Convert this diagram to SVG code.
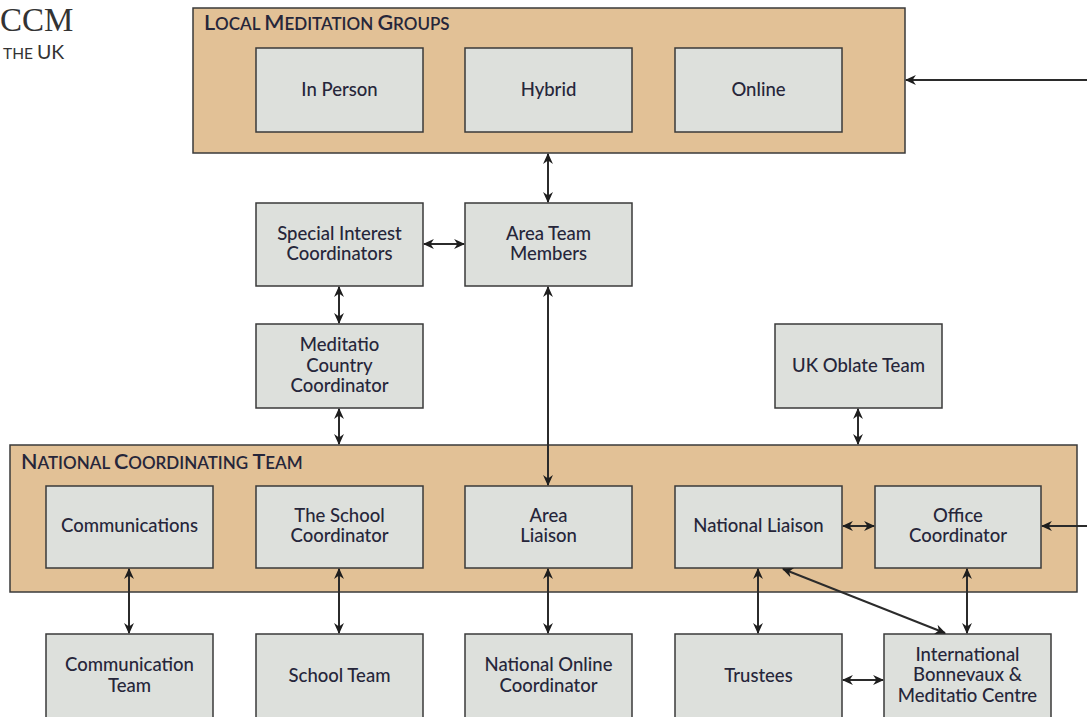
<svg xmlns="http://www.w3.org/2000/svg" width="1087" height="717" viewBox="0 0 1087 717">
<style>
.grp{fill:#e2c196;stroke:#3a3a3a;stroke-width:1.5}
.box{fill:#dde0dc;stroke:#3a3a3a;stroke-width:1.5}
.t{font-family:Lato,"Open Sans",sans-serif;font-size:18.5px;font-weight:500;fill:#26263a;text-anchor:middle}
.h{font-family:Lato,"Open Sans",sans-serif;fill:#26263a;font-weight:600}
.c{stroke:#2b2b2b;stroke-width:2;fill:none}
</style>
<defs>
<marker id="ah" viewBox="0 0 10 10" refX="9" refY="5" markerWidth="11" markerHeight="11" orient="auto-start-reverse" markerUnits="userSpaceOnUse">
<path d="M0,0.5 L10,5 L0,9.5 L3,5 z" fill="#1e1e1e"/>
</marker>
</defs>
<g id="logo">
<text x="0" y="31" font-family="Liberation Serif,serif" font-size="33" fill="#333">CCM</text>
<text x="3" y="59" font-family="Lato,sans-serif" fill="#333"><tspan font-size="15.5">THE </tspan><tspan font-size="19.5">UK</tspan></text>
</g>
<g id="local-groups">
<rect class="grp" x="193" y="8" width="712" height="145"/>
<text class="h" x="204" y="30"><tspan font-size="21.5">L</tspan><tspan font-size="17">OCAL </tspan><tspan font-size="21.5">M</tspan><tspan font-size="17">EDITATION </tspan><tspan font-size="21.5">G</tspan><tspan font-size="17">ROUPS</tspan></text>
</g>
<g id="in-person"><rect class="box" x="256" y="48" width="167" height="84"/><text class="t" x="339.5" y="96">In Person</text></g>
<g id="hybrid"><rect class="box" x="465" y="48" width="167" height="84"/><text class="t" x="548.5" y="96">Hybrid</text></g>
<g id="online"><rect class="box" x="675" y="48" width="167" height="84"/><text class="t" x="758.5" y="96">Online</text></g>
<g id="special-interest"><rect class="box" x="256" y="203" width="167" height="83"/><text class="t" x="339.5" y="240">Special Interest</text><text class="t" x="339.5" y="260">Coordinators</text></g>
<g id="area-team-members"><rect class="box" x="465" y="203" width="167" height="83"/><text class="t" x="548.5" y="240">Area Team</text><text class="t" x="548.5" y="260">Members</text></g>
<g id="meditatio-country"><rect class="box" x="256" y="324" width="167" height="84"/><text class="t" x="339.5" y="351">Meditatio</text><text class="t" x="339.5" y="372">Country</text><text class="t" x="339.5" y="392">Coordinator</text></g>
<g id="uk-oblate"><rect class="box" x="775" y="324" width="167" height="84"/><text class="t" x="858.5" y="372">UK Oblate Team</text></g>
<g id="national-team">
<rect class="grp" x="10" y="445" width="1067" height="147"/>
<text class="h" x="21" y="469"><tspan font-size="21.5">N</tspan><tspan font-size="17">ATIONAL </tspan><tspan font-size="21.5">C</tspan><tspan font-size="17">OORDINATING </tspan><tspan font-size="21.5">T</tspan><tspan font-size="17">EAM</tspan></text>
</g>
<g id="communications"><rect class="box" x="46" y="486" width="167" height="82"/><text class="t" x="129.5" y="532">Communications</text></g>
<g id="school-coordinator"><rect class="box" x="256" y="486" width="167" height="82"/><text class="t" x="339.5" y="522">The School</text><text class="t" x="339.5" y="542">Coordinator</text></g>
<g id="area-liaison"><rect class="box" x="465" y="486" width="167" height="82"/><text class="t" x="548.5" y="522">Area</text><text class="t" x="548.5" y="542">Liaison</text></g>
<g id="national-liaison"><rect class="box" x="675" y="486" width="167" height="82"/><text class="t" x="758.5" y="532">National Liaison</text></g>
<g id="office-coordinator"><rect class="box" x="875" y="486" width="166" height="82"/><text class="t" x="958" y="522">Office</text><text class="t" x="958" y="542">Coordinator</text></g>
<g id="communication-team"><rect class="box" x="46" y="634" width="167" height="90"/><text class="t" x="129.5" y="671">Communication</text><text class="t" x="129.5" y="692">Team</text></g>
<g id="school-team"><rect class="box" x="256" y="634" width="167" height="90"/><text class="t" x="339.5" y="682">School Team</text></g>
<g id="national-online"><rect class="box" x="465" y="634" width="167" height="90"/><text class="t" x="548.5" y="671">National Online</text><text class="t" x="548.5" y="692">Coordinator</text></g>
<g id="trustees"><rect class="box" x="675" y="634" width="167" height="90"/><text class="t" x="758.5" y="682">Trustees</text></g>
<g id="international"><rect class="box" x="884" y="634" width="167" height="90"/><text class="t" x="967.5" y="661">International</text><text class="t" x="967.5" y="681">Bonnevaux &amp;</text><text class="t" x="967.5" y="702">Meditatio Centre</text></g>
<g id="connectors">
<line class="c" x1="1087" y1="80" x2="906" y2="80" marker-end="url(#ah)"/>
<line class="c" x1="548" y1="154" x2="548" y2="202" marker-start="url(#ah)" marker-end="url(#ah)"/>
<line class="c" x1="424" y1="244" x2="464" y2="244" marker-start="url(#ah)" marker-end="url(#ah)"/>
<line class="c" x1="339" y1="287" x2="339" y2="323" marker-start="url(#ah)" marker-end="url(#ah)"/>
<line class="c" x1="339" y1="409" x2="339" y2="444" marker-start="url(#ah)" marker-end="url(#ah)"/>
<line class="c" x1="548" y1="287" x2="548" y2="485" marker-start="url(#ah)" marker-end="url(#ah)"/>
<line class="c" x1="858" y1="409" x2="858" y2="444" marker-start="url(#ah)" marker-end="url(#ah)"/>
<line class="c" x1="843" y1="526" x2="874" y2="526" marker-start="url(#ah)" marker-end="url(#ah)"/>
<line class="c" x1="1087" y1="526" x2="1042" y2="526" marker-end="url(#ah)"/>
<line class="c" x1="129" y1="569" x2="129" y2="633" marker-start="url(#ah)" marker-end="url(#ah)"/>
<line class="c" x1="339" y1="569" x2="339" y2="633" marker-start="url(#ah)" marker-end="url(#ah)"/>
<line class="c" x1="548" y1="569" x2="548" y2="633" marker-start="url(#ah)" marker-end="url(#ah)"/>
<line class="c" x1="758" y1="569" x2="758" y2="633" marker-start="url(#ah)" marker-end="url(#ah)"/>
<line class="c" x1="783" y1="569" x2="945" y2="633" marker-start="url(#ah)" marker-end="url(#ah)"/>
<line class="c" x1="967" y1="569" x2="967" y2="633" marker-start="url(#ah)" marker-end="url(#ah)"/>
<line class="c" x1="843" y1="680" x2="883" y2="680" marker-start="url(#ah)" marker-end="url(#ah)"/>
</g>
</svg>
